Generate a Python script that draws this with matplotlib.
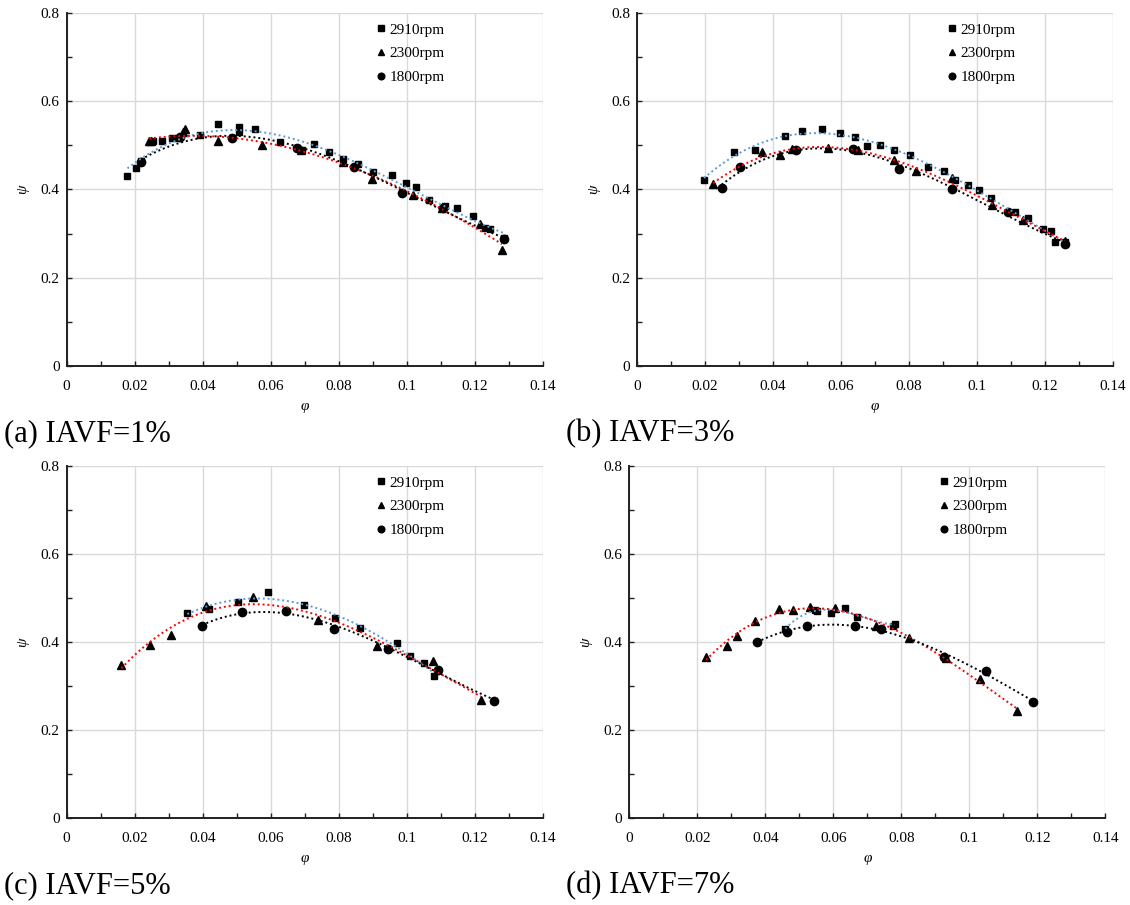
import numpy as np
import matplotlib
matplotlib.use('Agg')
import matplotlib.pyplot as plt
from matplotlib.ticker import MultipleLocator, FuncFormatter

plt.rcParams['font.family'] = ['Liberation Serif', 'DejaVu Serif']

speeds = ['2910rpm', '2300rpm', '1800rpm']
panel_titles = ['(a) IAVF=1%', '(b) IAVF=3%', '(c) IAVF=5%', '(d) IAVF=7%']

# ---- panel (a) IAVF=1% ----
a_phi_2910 = [0.0179, 0.0205, 0.0219, 0.0255, 0.0282, 0.0310, 0.0327, 0.0392, 0.0445, 0.0506,
              0.0506, 0.0554, 0.0629, 0.0678, 0.0693, 0.0729, 0.0771, 0.0814, 0.0857, 0.0901,
              0.0956, 0.0998, 0.1029, 0.1067, 0.1113, 0.1148, 0.1194, 0.1232, 0.1244, 0.1285]
a_psi_2910 = [0.431, 0.448, 0.464, 0.510, 0.510, 0.517, 0.516, 0.523, 0.549, 0.542,
              0.531, 0.538, 0.508, 0.495, 0.489, 0.503, 0.486, 0.468, 0.457, 0.440,
              0.432, 0.415, 0.406, 0.377, 0.362, 0.359, 0.340, 0.313, 0.310, 0.290]
a_phi_2300 = [0.0243, 0.0249, 0.0343, 0.0349, 0.0446, 0.0574, 0.0690, 0.0814, 0.0898, 0.1019,
              0.1105, 0.1217, 0.1281]
a_psi_2300 = [0.509, 0.511, 0.530, 0.538, 0.510, 0.501, 0.490, 0.463, 0.423, 0.387,
              0.358, 0.322, 0.264]
a_phi_1800 = [0.0219, 0.0334, 0.0486, 0.0678, 0.0846, 0.0987, 0.1107, 0.1287]
a_psi_1800 = [0.462, 0.518, 0.516, 0.495, 0.452, 0.393, 0.359, 0.288]

# ---- panel (b) IAVF=3% ----
b_phi_2910 = [0.0197, 0.0285, 0.0347, 0.0436, 0.0485, 0.0545, 0.0596, 0.0640, 0.0677, 0.0716,
              0.0755, 0.0803, 0.0857, 0.0902, 0.0935, 0.0974, 0.1007, 0.1040, 0.1112, 0.1149,
              0.1195, 0.1217, 0.1229, 0.1259]
b_psi_2910 = [0.422, 0.485, 0.489, 0.521, 0.533, 0.536, 0.527, 0.519, 0.498, 0.500,
              0.489, 0.478, 0.452, 0.443, 0.421, 0.410, 0.399, 0.380, 0.350, 0.336,
              0.311, 0.305, 0.280, 0.280]
b_phi_2300 = [0.0224, 0.0369, 0.0422, 0.0457, 0.0562, 0.0650, 0.0755, 0.0821, 0.0925, 0.1043,
              0.1135, 0.1259]
b_psi_2300 = [0.412, 0.485, 0.479, 0.492, 0.495, 0.489, 0.467, 0.442, 0.425, 0.365,
              0.332, 0.283]
b_phi_1800 = [0.0249, 0.0304, 0.0469, 0.0635, 0.0771, 0.0926, 0.1092, 0.1259]
b_psi_1800 = [0.403, 0.450, 0.489, 0.491, 0.447, 0.402, 0.350, 0.276]

# ---- panel (c) IAVF=5% ----
c_phi_2910 = [0.0355, 0.0419, 0.0503, 0.0592, 0.0698, 0.0789, 0.0863, 0.0972, 0.1011, 0.1052, 0.1080]
c_psi_2910 = [0.467, 0.476, 0.492, 0.513, 0.483, 0.455, 0.431, 0.398, 0.368, 0.352, 0.322]
c_phi_2300 = [0.0161, 0.0245, 0.0307, 0.0410, 0.0547, 0.0738, 0.0913, 0.1078, 0.1218]
c_psi_2300 = [0.348, 0.393, 0.417, 0.481, 0.502, 0.449, 0.392, 0.357, 0.269]
c_phi_1800 = [0.0398, 0.0517, 0.0646, 0.0787, 0.0946, 0.1092, 0.1256]
c_psi_1800 = [0.436, 0.468, 0.470, 0.430, 0.385, 0.337, 0.267]

# ---- panel (d) IAVF=7% ----
d_phi_2910 = [0.0459, 0.0545, 0.0551, 0.0592, 0.0633, 0.0669, 0.0775, 0.0781]
d_psi_2910 = [0.430, 0.473, 0.471, 0.466, 0.477, 0.457, 0.437, 0.442]
d_phi_2300 = [0.0226, 0.0286, 0.0318, 0.0371, 0.0439, 0.0482, 0.0531, 0.0604, 0.0726, 0.0822,
              0.0930, 0.1031, 0.1141]
d_psi_2300 = [0.367, 0.392, 0.413, 0.447, 0.475, 0.472, 0.480, 0.477, 0.437, 0.408,
              0.363, 0.317, 0.244]
d_phi_1800 = [0.0376, 0.0463, 0.0524, 0.0663, 0.0740, 0.0925, 0.1050, 0.1188]
d_psi_1800 = [0.401, 0.422, 0.437, 0.437, 0.429, 0.367, 0.333, 0.264]

panels = [
    [(a_phi_2910, a_psi_2910), (a_phi_2300, a_psi_2300), (a_phi_1800, a_psi_1800)],
    [(b_phi_2910, b_psi_2910), (b_phi_2300, b_psi_2300), (b_phi_1800, b_psi_1800)],
    [(c_phi_2910, c_psi_2910), (c_phi_2300, c_psi_2300), (c_phi_1800, c_psi_1800)],
    [(d_phi_2910, d_psi_2910), (d_phi_2300, d_psi_2300), (d_phi_1800, d_psi_1800)],
]

markers = ['s', '^', 'o']
msizes = [5.0, 5.5, 6.0]
trend_colors = ['#5B9BD5', '#FF0000', '#000000']

W, H = 1130, 905
fig = plt.figure(figsize=(W / 100, H / 100), dpi=100)

# axes boxes in pixels: (left, top, right, bottom)
boxes = [(66.6, 13, 542.6, 366), (637, 13, 1113, 366),
         (66.6, 466, 542.6, 818), (629.3, 466, 1105.3, 818)]
caption_x = [4, 566, 4, 566]

fmt = FuncFormatter(lambda v, p: '{:g}'.format(round(v, 3)))

for k, (l, t, r, b) in enumerate(boxes):
    ax = fig.add_axes([l / W, 1 - b / H, (r - l) / W, (b - t) / H])
    ax.set_xlim(0, 0.14)
    ax.set_ylim(0, 0.8)
    ax.xaxis.set_major_locator(MultipleLocator(0.02))
    ax.xaxis.set_minor_locator(MultipleLocator(0.01))
    ax.yaxis.set_major_locator(MultipleLocator(0.2))
    ax.yaxis.set_minor_locator(MultipleLocator(0.1))
    ax.xaxis.set_major_formatter(fmt)
    ax.yaxis.set_major_formatter(fmt)
    ax.grid(True, which='major', color='#d9d9d9', lw=1.0, zorder=0)
    ax.set_axisbelow(True)
    for s in ['top', 'right']:
        ax.spines[s].set_visible(False)
    for s in ['left', 'bottom']:
        ax.spines[s].set_linewidth(1.4)
        ax.spines[s].set_color('#202020')
    ax.tick_params(which='both', direction='in', length=3.5, width=1.0, labelsize=11,
                   colors='#202020')
    ax.tick_params(axis='x', pad=10)
    ax.tick_params(axis='y', pad=5)
    for lab in ax.get_xticklabels() + ax.get_yticklabels():
        lab.set_color('black')

    for i, (phi, psi) in enumerate(panels[k]):
        phi = np.asarray(phi)
        psi = np.asarray(psi)
        ax.plot(phi, psi, linestyle='none', marker=markers[i], ms=msizes[i],
                color='black', label=speeds[i], zorder=2, clip_on=False)
        coef = np.polyfit(phi, psi, 3)
        xs = np.linspace(phi.min(), phi.max(), 200)
        ax.plot(xs, np.polyval(coef, xs), linestyle=(0, (1, 1.5)), lw=1.4,
                color=trend_colors[i], zorder=3)

    ax.set_xlabel('φ', fontsize=11, style='italic', labelpad=5)
    ax.set_ylabel('ψ', fontsize=11, style='italic', labelpad=8)

    leg_x = (315 - 4) / (r - l)
    leg_y = 1 - 10 / (b - t)
    ax.legend(loc='upper left', bbox_to_anchor=(leg_x, leg_y), frameon=False,
              fontsize=11, handlelength=0.5, handletextpad=0.3, borderpad=0,
              borderaxespad=0, labelspacing=0.65, markerscale=0.8)

    fig.text(caption_x[k] / W, 1 - (b + 68) / H, panel_titles[k],
             fontsize=22, va='center', ha='left')

fig.savefig('out.png', dpi=100)
